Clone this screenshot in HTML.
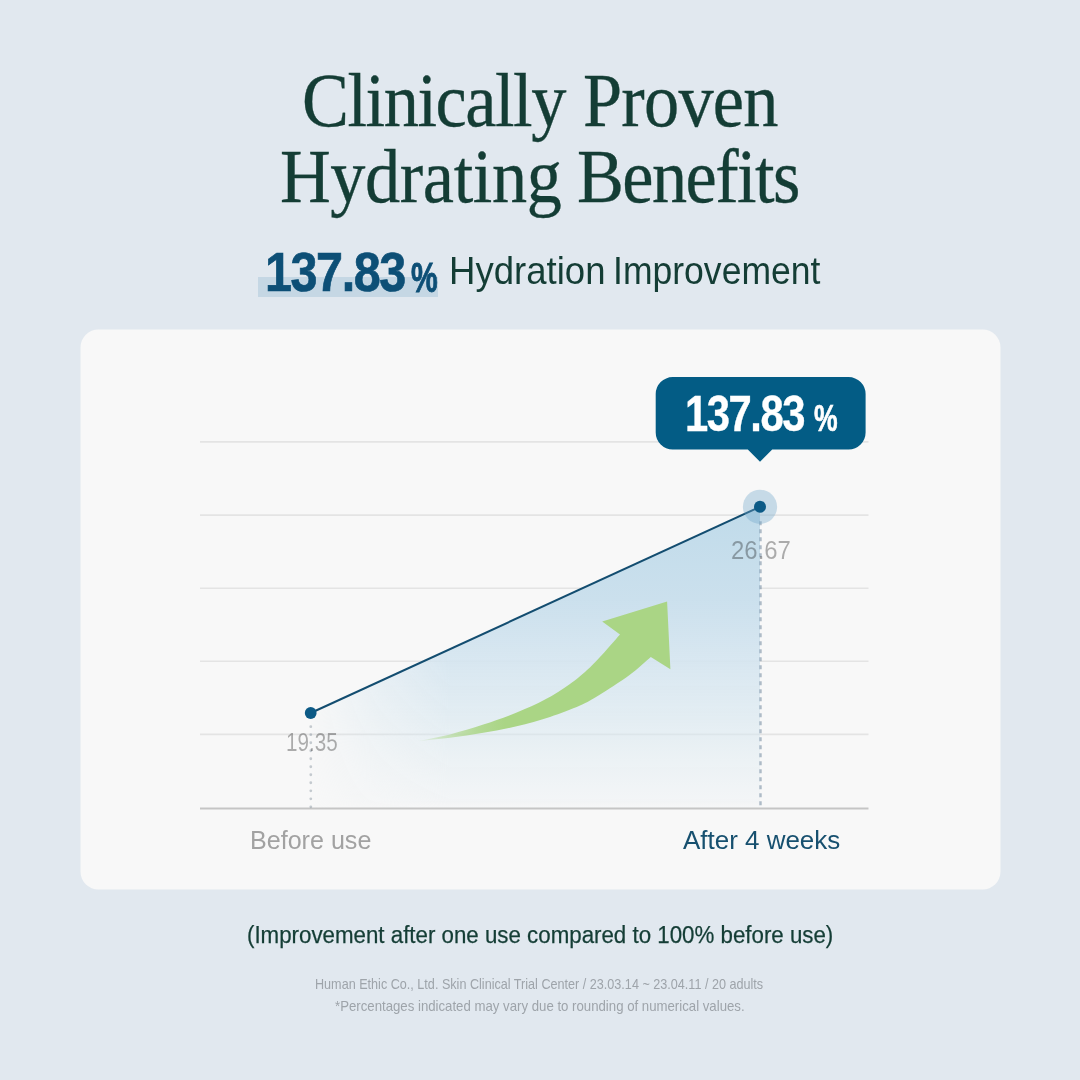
<!DOCTYPE html>
<html lang="en">
<head>
<meta charset="utf-8">
<title>Clinically Proven Hydrating Benefits</title>
<style>
  html, body { margin: 0; padding: 0; }
  body {
    width: 1080px; height: 1080px; overflow: hidden;
    background: #e1e8ef;
    font-family: "Liberation Sans", sans-serif;
    position: relative;
  }
  .t {
    position: absolute; white-space: nowrap; line-height: 1;
    transform-origin: 0 0; margin: 0; padding: 0;
  }
  svg.layer { position: absolute; left: 0; top: 0; width: 1080px; height: 1080px; }
  #base { z-index: 0; }
  #plot { z-index: 2; }
  #hl { position: absolute; left: 257.8px; top: 277px; width: 180.7px; height: 19.6px; background: #c5d7e4; z-index: 1; }
  #t1a{left:301.81px;top:63px;font-family:"Liberation Serif", serif;font-size:75.6px;letter-spacing:-1.547px;-webkit-text-stroke:0.35px currentColor;color:#143d35;transform:scaleX(0.9302);z-index:5;}
  #t1b{left:582.74px;top:63px;font-family:"Liberation Serif", serif;font-size:75.6px;letter-spacing:-0.831px;-webkit-text-stroke:0.35px currentColor;color:#143d35;transform:scaleX(0.9304);z-index:5;}
  #t2a{left:279.94px;top:139px;font-family:"Liberation Serif", serif;font-size:75.6px;letter-spacing:-0.420px;-webkit-text-stroke:0.35px currentColor;color:#143d35;transform:scaleX(0.9297);z-index:5;}
  #t2b{left:577.04px;top:139px;font-family:"Liberation Serif", serif;font-size:75.6px;letter-spacing:-1.666px;-webkit-text-stroke:0.35px currentColor;color:#143d35;transform:scaleX(0.9294);z-index:5;}
  #n1{left:264.76px;top:245px;font-family:"Liberation Sans", sans-serif;font-size:55.5px;font-weight:bold;letter-spacing:-1.636px;-webkit-text-stroke:0.7px currentColor;color:#0d4f76;transform:scaleX(0.8740);z-index:5;}
  #p1{left:410.74px;top:257px;font-family:"Liberation Sans", sans-serif;font-size:42px;font-weight:bold;-webkit-text-stroke:0.9px currentColor;color:#0d4f76;transform:scaleX(0.7145);z-index:5;}
  #s1a{left:448.91px;top:252px;font-family:"Liberation Sans", sans-serif;font-size:38.5px;color:#143d35;transform:scaleX(0.9497);z-index:5;}
  #s1b{left:612.77px;top:252px;font-family:"Liberation Sans", sans-serif;font-size:38.5px;color:#143d35;transform:scaleX(0.9232);z-index:5;}
  #n2{left:685.47px;top:389px;font-family:"Liberation Sans", sans-serif;font-size:49.5px;font-weight:bold;letter-spacing:-1.729px;-webkit-text-stroke:0.4px currentColor;color:#ffffff;transform:scaleX(0.8441);z-index:5;}
  #p2{left:814.34px;top:400px;font-family:"Liberation Sans", sans-serif;font-size:37px;font-weight:bold;-webkit-text-stroke:0.7px currentColor;color:#ffffff;transform:scaleX(0.7181);z-index:5;}
  #l1{left:286.28px;top:730px;font-family:"Liberation Sans", sans-serif;font-size:25.5px;color:rgba(0,0,0,0.31);transform:scaleX(0.8099);z-index:3;}
  #l2{left:730.93px;top:538px;font-family:"Liberation Sans", sans-serif;font-size:25.5px;color:rgba(0,0,0,0.31);transform:scaleX(0.9388);z-index:3;}
  #a1{left:250.37px;top:827px;font-family:"Liberation Sans", sans-serif;font-size:26.5px;color:#a2a2a2;transform:scaleX(0.9467);z-index:5;}
  #a2{left:682.50px;top:827px;font-family:"Liberation Sans", sans-serif;font-size:26.5px;color:#17506f;transform:scaleX(0.9793);z-index:5;}
  #note{left:247.21px;top:924px;font-family:"Liberation Sans", sans-serif;font-size:23.5px;-webkit-text-stroke:0.25px currentColor;color:#143d35;transform:scaleX(0.9489);z-index:5;}
  #f1{left:314.91px;top:977px;font-family:"Liberation Sans", sans-serif;font-size:14.5px;color:#9ea4aa;transform:scaleX(0.8699);z-index:5;}
  #f2{left:334.87px;top:999px;font-family:"Liberation Sans", sans-serif;font-size:14.5px;color:#9ea4aa;transform:scaleX(0.9107);z-index:5;}
</style>
</head>
<body>
  <svg id="base" class="layer" viewBox="0 0 1080 1080" width="1080" height="1080">
    <rect x="80.5" y="329.5" width="920" height="560" rx="18" ry="18" fill="#f8f8f8"/>
    <g stroke="#e4e4e4" stroke-width="1.6">
      <line x1="200" y1="441.9" x2="868.5" y2="441.9"/>
      <line x1="200" y1="515.1" x2="868.5" y2="515.1"/>
      <line x1="200" y1="588.3" x2="868.5" y2="588.3"/>
      <line x1="200" y1="661.3" x2="868.5" y2="661.3"/>
      <line x1="200" y1="734.4" x2="868.5" y2="734.4"/>
    </g>
  </svg>

  <h1 style="margin:0;font-weight:normal;font-size:inherit">
    <span id="t1a" class="t">Clinically</span> <span id="t1b" class="t">Proven</span>
    <span id="t2a" class="t">Hydrating</span> <span id="t2b" class="t">Benefits</span>
  </h1>

  <div id="hl"></div>
  <div>
    <span id="n1" class="t">137.83</span><span id="p1" class="t">%</span>
    <span id="s1a" class="t">Hydration</span> <span id="s1b" class="t">Improvement</span>
  </div>

  <span id="l1" class="t">19.35</span>
  <span id="l2" class="t">26.67</span>

  <svg id="plot" class="layer" viewBox="0 0 1080 1080" width="1080" height="1080">
    <defs>
      <linearGradient id="gv" gradientUnits="userSpaceOnUse" x1="0" y1="507" x2="0" y2="808">
        <stop offset="0" stop-color="#c0dbea" stop-opacity="1"/>
        <stop offset="0.31" stop-color="#cbe0ed" stop-opacity="1"/>
        <stop offset="0.51" stop-color="#d3e4ef" stop-opacity="0.88"/>
        <stop offset="0.757" stop-color="#d5e6ef" stop-opacity="0.5"/>
        <stop offset="0.97" stop-color="#e0ebf1" stop-opacity="0.25"/>
        <stop offset="1" stop-color="#e8edf2" stop-opacity="0.15"/>
      </linearGradient>
      <linearGradient id="gh" gradientUnits="userSpaceOnUse" x1="311" y1="0" x2="450" y2="0">
        <stop offset="0" stop-color="#fff" stop-opacity="0.05"/>
        <stop offset="0.5" stop-color="#fff" stop-opacity="0.6"/>
        <stop offset="1" stop-color="#fff" stop-opacity="1"/>
      </linearGradient>
      <mask id="mk" maskUnits="userSpaceOnUse" x="0" y="0" width="1080" height="1080">
        <rect x="0" y="0" width="1080" height="1080" fill="url(#gh)"/>
      </mask>
      <linearGradient id="ga" gradientUnits="userSpaceOnUse" x1="414" y1="0" x2="505" y2="0">
        <stop offset="0" stop-color="#aad585" stop-opacity="0"/>
        <stop offset="0.3" stop-color="#aad585" stop-opacity="0.45"/>
        <stop offset="0.7" stop-color="#aad585" stop-opacity="0.85"/>
        <stop offset="1" stop-color="#aad585" stop-opacity="1"/>
      </linearGradient>
    </defs>
    <polygon points="310.7,713 760,506.8 760,808 310.7,808" fill="url(#gv)" mask="url(#mk)"/>
    <line x1="200" y1="808.5" x2="868.5" y2="808.5" stroke="#c5c5c5" stroke-width="2"/>
    <line x1="310.8" y1="726.7" x2="310.8" y2="807.5" stroke="rgb(125,138,150)" stroke-opacity="0.42" stroke-width="2.8" stroke-linecap="round" stroke-dasharray="0.01 8"/>
    <line x1="760.5" y1="521.3" x2="760.5" y2="806" stroke="rgb(100,125,150)" stroke-opacity="0.5" stroke-width="2.4" stroke-dasharray="4 4"/>
    <path d="M416.5,741.3 C422.1,740.1 438.9,737.2 450.0,734.4 C461.1,731.6 472.2,728.2 483.3,724.6 C494.4,721.0 506.4,716.8 516.7,712.6 C527.0,708.4 536.2,704.3 545.0,699.6 C553.8,694.9 562.9,688.8 569.6,684.2 C576.3,679.6 580.0,676.4 585.0,672.0 C590.0,667.6 593.5,664.1 599.3,657.8 C605.1,651.5 616.5,638.3 620.0,634.4 L602.2,621.6 L667.1,601.6 L670.4,669.3 L650.8,657 C647.1,660.1 637.5,669.3 628.9,675.6 C620.3,681.9 607.4,690.0 599.3,695.0 C591.1,700.0 588.2,701.9 580.0,705.6 C571.8,709.3 560.5,713.6 550.0,717.0 C539.5,720.4 527.8,723.6 516.7,726.2 C505.6,728.8 494.4,730.9 483.3,732.8 C472.2,734.7 461.1,736.4 450.0,737.8 C438.9,739.2 422.1,740.7 416.5,741.3 Z" fill="url(#ga)"/>
    <line x1="310.7" y1="713" x2="760" y2="506.800" stroke="#134d70" stroke-width="2"/>
    <circle cx="760" cy="506.800" r="17.100" fill="#6fa7ca" fill-opacity="0.36"/>
    <circle cx="310.700" cy="713" r="5.900" fill="#0c5a86"/>
    <circle cx="760" cy="506.800" r="6" fill="#0c5a86"/>
    <path d="M672.7,377.1 H848.6 a17,17 0 0 1 17,17 V432.6 a17,17 0 0 1 -17,17 H772.2 L760,461.8 L747.8,449.6 H672.7 a17,17 0 0 1 -17,-17 V394.1 a17,17 0 0 1 17,-17 Z" fill="#035c85"/>
  </svg>

  <span id="n2" class="t">137.83</span><span id="p2" class="t">%</span>
  <span id="a1" class="t">Before use</span>
  <span id="a2" class="t">After 4 weeks</span>

  <p style="margin:0"><span id="note" class="t">(Improvement after one use compared to 100% before use)</span></p>
  <p style="margin:0"><span id="f1" class="t">Human Ethic Co., Ltd. Skin Clinical Trial Center / 23.03.14 ~ 23.04.11 / 20 adults</span></p>
  <p style="margin:0"><span id="f2" class="t">*Percentages indicated may vary due to rounding of numerical values.</span></p>
</body>
</html>
